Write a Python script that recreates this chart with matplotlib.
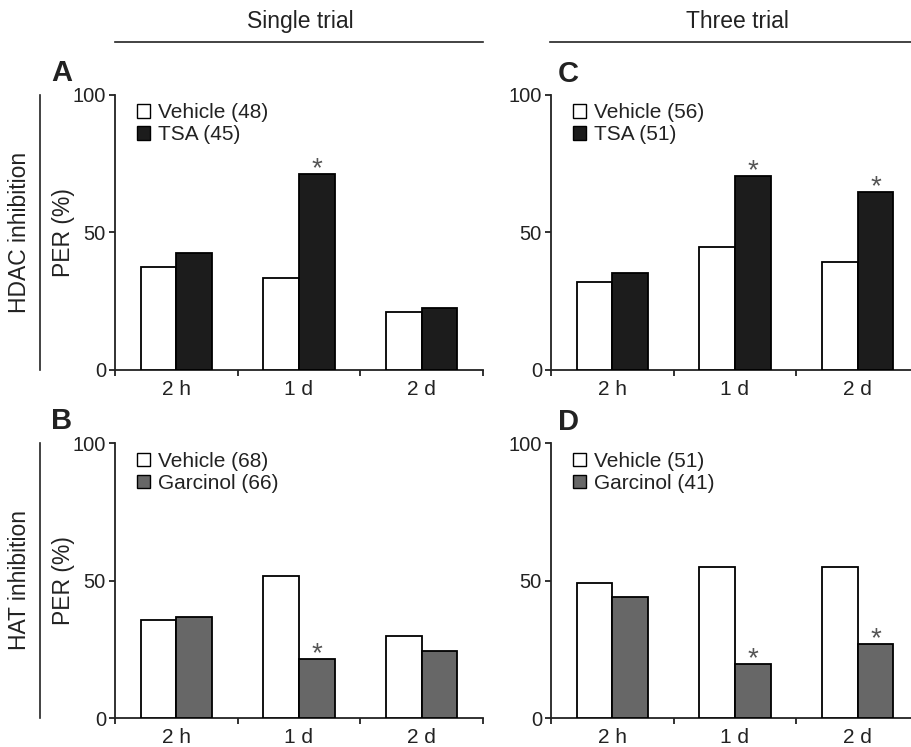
import matplotlib
matplotlib.use('Agg')
import matplotlib.pyplot as plt
from matplotlib.patches import Patch
from matplotlib.lines import Line2D
import numpy as np

plt.rcParams['font.family'] = ['Liberation Sans', 'DejaVu Sans']

# ---------------- data ----------------
timepoints = ['2 h', '1 d', '2 d']
yticks = [0, 50, 100]

A_vehicle = [37.5, 33.5, 21.0]
A_tsa = [42.5, 71.3, 22.5]
A_sig = [False, True, False]
A_labels = ['Vehicle (48)', 'TSA (45)']

C_vehicle = [32.1, 44.6, 39.2]
C_tsa = [35.4, 70.5, 64.6]
C_sig = [False, True, True]
C_labels = ['Vehicle (56)', 'TSA (51)']

B_vehicle = [35.7, 51.7, 29.8]
B_garcinol = [36.8, 21.6, 24.5]
B_sig = [False, True, False]
B_labels = ['Vehicle (68)', 'Garcinol (66)']

D_vehicle = [49.1, 54.9, 54.9]
D_garcinol = [44.1, 19.7, 26.9]
D_sig = [False, True, True]
D_labels = ['Vehicle (51)', 'Garcinol (41)']

col_titles = ['Single trial', 'Three trial']
row_titles = ['HDAC inhibition', 'HAT inhibition']
panel_letters = ['A', 'C', 'B', 'D']

# ---------------- styling ----------------
W, H = 912, 747
TXT = '#222222'
LW = 1.3
FS = 15
FS_Y = 14.5
FS_BIG = 16.5
TSA_COLOR = '#1c1c1c'
GAR_COLOR = '#676767'

fig = plt.figure(figsize=(W / 100, H / 100), dpi=100)


def fx(px):
    return px / W


def fy(py):
    return 1 - py / H


def panel(rect, veh, drug, sig, labels, drug_color, ylabel):
    ax = fig.add_axes(rect)
    x = np.arange(len(timepoints)) + 0.5
    w = 0.29
    ax.bar(x - w / 2, veh, w, color='white', edgecolor='black', linewidth=LW, zorder=3)
    bars = ax.bar(x + w / 2, drug, w, color=drug_color, edgecolor='black', linewidth=LW, zorder=3)
    for b, s in zip(bars, sig):
        if s:
            ax.annotate('*', (b.get_x() + b.get_width() / 2, b.get_height()),
                        xytext=(0, -1.5), textcoords='offset points',
                        ha='center', va='baseline', fontsize=20, color='#555555')
    ax.set_xlim(0, len(timepoints))
    ax.set_ylim(0, 100)
    ax.set_yticks(yticks)
    ax.set_yticklabels([str(t) for t in yticks])
    ax.set_xticks(np.arange(len(timepoints) + 1))
    ax.set_xticklabels([])
    ax.set_xticks(x, minor=True)
    ax.set_xticklabels(timepoints, minor=True)
    ax.tick_params(axis='x', which='major', length=4, width=LW, direction='out', color='#222222')
    ax.tick_params(axis='x', which='minor', length=0, pad=7, labelsize=FS, labelcolor=TXT)
    ax.tick_params(axis='y', length=4.5, width=LW, direction='out', pad=2, labelsize=FS_Y,
                   labelcolor=TXT, color='#222222')
    for sp in ['top', 'right']:
        ax.spines[sp].set_visible(False)
    for sp in ['left', 'bottom']:
        ax.spines[sp].set_linewidth(LW)
        ax.spines[sp].set_color('#222222')
    handles = [Patch(facecolor='white', edgecolor='black', linewidth=1.0),
               Patch(facecolor=drug_color, edgecolor='black', linewidth=1.0)]
    ax.legend(handles, labels, loc='upper left', bbox_to_anchor=(0.06, 0.97),
              frameon=False, fontsize=FS, handlelength=0.6, handleheight=0.6,
              handletextpad=0.4, labelspacing=0.15, borderpad=0, borderaxespad=0,
              labelcolor=TXT)
    if ylabel:
        ax.set_ylabel('PER (%)', fontsize=FS_BIG, color=TXT)
        ax.yaxis.set_label_coords(-40 / 368, 0.5)
    return ax


ax_w = 368 / W
ax_h = 275 / H
axA = panel([fx(115), fy(370), ax_w, ax_h], A_vehicle, A_tsa, A_sig, A_labels, TSA_COLOR, True)
axC = panel([fx(551), fy(370), ax_w, ax_h], C_vehicle, C_tsa, C_sig, C_labels, TSA_COLOR, False)
axB = panel([fx(115), fy(718.3), ax_w, ax_h], B_vehicle, B_garcinol, B_sig, B_labels, GAR_COLOR, True)
axD = panel([fx(551), fy(718.3), ax_w, ax_h], D_vehicle, D_garcinol, D_sig, D_labels, GAR_COLOR, False)

# panel letters
for letter, (px, py) in zip(panel_letters, [(62, 73), (568, 74), (62, 421), (568, 422)]):
    fig.text(fx(px), fy(py), letter, ha='center', va='center', fontsize=21,
             fontweight='bold', color=TXT)

# column headers with rule lines
for title, cx, (x0, x1) in zip(col_titles, [300, 737], [(115, 483), (550, 915)]):
    fig.text(fx(cx), fy(28), title, ha='center', va='baseline', fontsize=FS_BIG, color=TXT)
    fig.add_artist(Line2D([fx(x0), fx(x1)], [fy(42), fy(42)], color='#222222', linewidth=1.2))

# row headers with vertical rule lines
for title, cy, (y0, y1) in zip(row_titles, [232, 580], [(95, 370), (443, 718)]):
    fig.text(fx(20), fy(cy), title, ha='center', va='center', rotation=90,
             fontsize=FS_BIG, color=TXT)
    fig.add_artist(Line2D([fx(40), fx(40)], [fy(y0), fy(y1)], color='#222222', linewidth=1.2))

fig.savefig('out.png', dpi=100)
